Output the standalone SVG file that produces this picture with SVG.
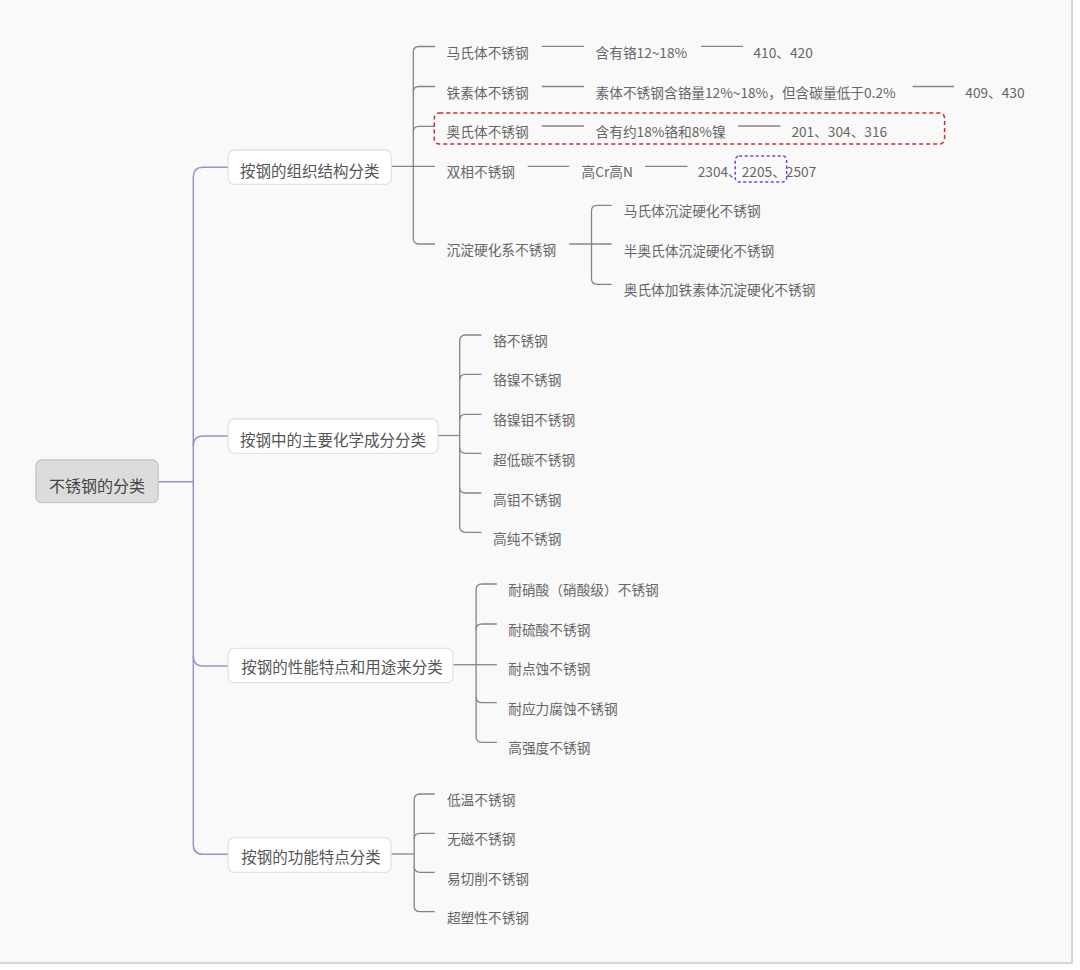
<svg xmlns="http://www.w3.org/2000/svg" width="1080" height="970" viewBox="0 0 1080 970">
<style>
text{font-family:"Noto Sans CJK SC","Liberation Sans",sans-serif}
.t2{font-size:13.7px;fill:#666}
.t1{font-size:15.5px;fill:#555}
.t0{font-size:16px;fill:#444}
.box{fill:#fff;stroke:#e3e3e3;stroke-width:1.3}
.ln{fill:none;stroke:#8a8480;stroke-width:1.3}
.tr{fill:none;stroke:#9893cc;stroke-width:1.5}
</style>
<rect x="0" y="0" width="1080" height="970" fill="#ffffff"/>
<rect x="0" y="0" width="1071" height="962" fill="#f9f9f9"/>
<line x1="1072" y1="0" x2="1072" y2="964" stroke="#d6d6d6" stroke-width="2"/>
<line x1="0" y1="963" x2="1073" y2="963" stroke="#d6d6d6" stroke-width="2"/>

<g id="connectors">
<path class="tr" d="M158,481.7 H193.3"/>
<path class="tr" d="M228.3,167.3 H203 Q193.3,167.3 193.3,177 V844.5 Q193.3,854.3 203,854.3 H228.2"/>
<path class="tr" d="M193.3,446 Q193.3,436 203,436 H228.3"/>
<path class="tr" d="M193.3,656 Q193.3,666 203,666 H228.2"/>

<path class="ln" d="M391.5,166.3 H435"/>
<path class="ln" d="M435,46.5 H419 Q413.3,46.5 413.3,52 V238.5 Q413.3,244 419,244 H435"/>
<path class="ln" d="M413.3,92 Q413.3,86.5 419,86.5 H435"/>
<path class="ln" d="M413.3,132 Q413.3,126.3 419,126.3 H435"/>
<path class="ln" d="M541.7,46.3 H584"/>
<path class="ln" d="M701,46.3 H743"/>
<path class="ln" d="M541.7,86.5 H584"/>
<path class="ln" d="M912.6,86.5 H954"/>
<path class="ln" d="M541.7,126 H584"/>
<path class="ln" d="M738,126 H780.4"/>
<path class="ln" d="M527.7,166.3 H569.3"/>
<path class="ln" d="M645,166.3 H687.4"/>
<path class="ln" d="M569.3,244 H611.7"/>
<path class="ln" d="M611.7,205.3 H597 Q591.5,205.3 591.5,211 V278.5 Q591.5,284.3 597,284.3 H611.7"/>

<path class="ln" d="M438,435.5 H459.7"/>
<path class="ln" d="M481.4,335 H465.5 Q459.7,335 459.7,341 V526.5 Q459.7,532.3 465.5,532.3 H481.4"/>
<path class="ln" d="M459.7,380 Q459.7,374.3 465.5,374.3 H481.4"/>
<path class="ln" d="M459.7,420 Q459.7,414.3 465.5,414.3 H481.4"/>
<path class="ln" d="M459.7,447.5 Q459.7,453.3 465.5,453.3 H481.4"/>
<path class="ln" d="M459.7,487.2 Q459.7,493 465.5,493 H481.4"/>

<path class="ln" d="M453,664.7 H476.1"/>
<path class="ln" d="M496.8,584 H482 Q476.1,584 476.1,590 V736.5 Q476.1,742.3 482,742.3 H496.8"/>
<path class="ln" d="M476.1,629.7 Q476.1,624 482,624 H496.8"/>
<path class="ln" d="M476.1,664.7 H496.8"/>
<path class="ln" d="M476.1,697 Q476.1,702.7 482,702.7 H496.8"/>

<path class="ln" d="M391,854 H414.2"/>
<path class="ln" d="M434.8,794 H420 Q414.2,794 414.2,800 V906 Q414.2,911.7 420,911.7 H434.8"/>
<path class="ln" d="M414.2,839 Q414.2,833.3 420,833.3 H434.8"/>
<path class="ln" d="M414.2,866.5 Q414.2,872.3 420,872.3 H434.8"/>
</g>

<g id="root">
<rect x="35.8" y="460" width="122.4" height="42.7" rx="6" fill="#dcdcdc" stroke="#c6c6c6" stroke-width="1.3"/>
<text class="t0" x="97" y="491.6" text-anchor="middle">不锈钢的分类</text>
</g>

<g id="b1">
<rect class="box" x="228.3" y="150" width="163.2" height="34.3" rx="6"/>
<text class="t1" x="240" y="176.5">按钢的组织结构分类</text>
</g>
<g id="b2">
<rect class="box" x="228.3" y="419" width="209.7" height="34.3" rx="6"/>
<text class="t1" x="240" y="445.8">按钢中的主要化学成分分类</text>
</g>
<g id="b3">
<rect class="box" x="228.2" y="648.3" width="224.8" height="34.4" rx="6"/>
<text class="t1" x="241.3" y="672.5">按钢的性能特点和用途来分类</text>
</g>
<g id="b4">
<rect class="box" x="228.2" y="837.7" width="162.8" height="34.6" rx="6"/>
<text class="t1" x="241.3" y="863">按钢的功能特点分类</text>
</g>

<g id="b1-children">
<g id="n-mashi"><text class="t2" x="446.6" y="57.5">马氏体不锈钢</text></g>
<g id="n-mashi-1"><text class="t2" x="595.5" y="57.5">含有铬12~18%</text></g>
<g id="n-mashi-2"><text class="t2" x="753.5" y="57.5">410、420</text></g>
<g id="n-tiesu"><text class="t2" x="446.6" y="97.5">铁素体不锈钢</text></g>
<g id="n-tiesu-1"><text class="t2" x="595.5" y="97.5">素体不锈钢含铬量12%~18%，但含碳量低于0.2%</text></g>
<g id="n-tiesu-2"><text class="t2" x="965.3" y="97.5">409、430</text></g>
<g id="n-aoshi"><text class="t2" x="446.6" y="137.2">奥氏体不锈钢</text></g>
<g id="n-aoshi-1"><text class="t2" x="595.5" y="137.2">含有约18%铬和8%镍</text></g>
<g id="n-aoshi-2"><text class="t2" x="791.4" y="137.2">201、304、316</text></g>
<g id="n-shuangxiang"><text class="t2" x="446.6" y="177.2">双相不锈钢</text></g>
<g id="n-shuangxiang-1"><text class="t2" x="581.5" y="177.2">高Cr高N</text></g>
<g id="n-shuangxiang-2"><text class="t2" x="697.7" y="177.2">2304、2205、2507</text></g>
<g id="n-chendian"><text class="t2" x="446.6" y="255.3">沉淀硬化系不锈钢</text></g>
<g id="n-chendian-1"><text class="t2" x="623.7" y="216.3">马氏体沉淀硬化不锈钢</text></g>
<g id="n-chendian-2"><text class="t2" x="623.7" y="255.5">半奥氏体沉淀硬化不锈钢</text></g>
<g id="n-chendian-3"><text class="t2" x="623.7" y="295">奥氏体加铁素体沉淀硬化不锈钢</text></g>
</g>

<g id="highlights">
<rect x="434.3" y="113" width="510.3" height="31" rx="5" fill="none" stroke="#d42a2a" stroke-width="1.5" stroke-dasharray="4 3"/>
<rect x="735.2" y="156" width="51.4" height="26" rx="4" fill="none" stroke="#7a3fe0" stroke-width="1.5" stroke-dasharray="3 2.5"/>
</g>

<g id="b2-children">
<g id="n-ge"><text class="t2" x="493" y="345.9">铬不锈钢</text></g>
<g id="n-genie"><text class="t2" x="493" y="385.2">铬镍不锈钢</text></g>
<g id="n-geniemu"><text class="t2" x="493" y="425.2">铬镍钼不锈钢</text></g>
<g id="n-chaodi"><text class="t2" x="493" y="464.5">超低碳不锈钢</text></g>
<g id="n-gaomu"><text class="t2" x="493" y="504.5">高钼不锈钢</text></g>
<g id="n-gaochun"><text class="t2" x="493" y="544.2">高纯不锈钢</text></g>
</g>

<g id="b3-children">
<g id="n-xiaosuan"><text class="t2" x="508.2" y="595.2">耐硝酸（硝酸级）不锈钢</text></g>
<g id="n-liusuan"><text class="t2" x="508.2" y="634.9">耐硫酸不锈钢</text></g>
<g id="n-dianshi"><text class="t2" x="508.2" y="674.2">耐点蚀不锈钢</text></g>
<g id="n-yingli"><text class="t2" x="508.2" y="713.9">耐应力腐蚀不锈钢</text></g>
<g id="n-gaoqiang"><text class="t2" x="508.2" y="753.2">高强度不锈钢</text></g>
</g>

<g id="b4-children">
<g id="n-diwen"><text class="t2" x="446.9" y="804.5">低温不锈钢</text></g>
<g id="n-wuci"><text class="t2" x="446.9" y="844.2">无磁不锈钢</text></g>
<g id="n-yiqie"><text class="t2" x="446.9" y="883.5">易切削不锈钢</text></g>
<g id="n-chaosu"><text class="t2" x="446.9" y="923.2">超塑性不锈钢</text></g>
</g>
</svg>
